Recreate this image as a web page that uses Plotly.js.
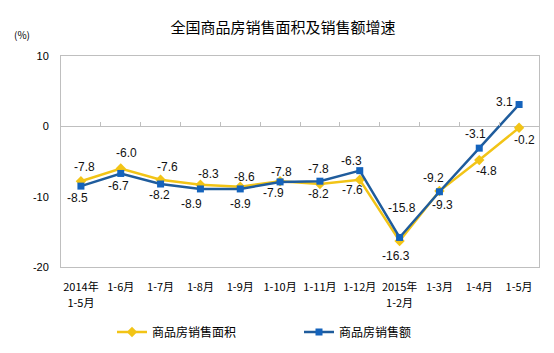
<!DOCTYPE html>
<html>
<head>
<meta charset="utf-8">
<script src="https://cdn.plot.ly/plotly-3.0.1.min.js"></script>
<style>html,body{margin:0;padding:0;background:#fff;}#chart{width:554px;height:353px;}</style>
</head>
<body>
<div id="chart"></div>
<script>
// ---- data ----
const categories = ["2014年 1-5月","1-6月","1-7月","1-8月","1-9月","1-10月","1-11月","1-12月","2015年 1-2月","1-3月","1-4月","1-5月"];
const tickLine1 = ["2014年","1-6月","1-7月","1-8月","1-9月","1-10月","1-11月","1-12月","2015年","1-3月","1-4月","1-5月"];
const tickLine2 = ["1-5月","","","","","","","","1-2月","","",""];
const areaName = "商品房销售面积";
const amountName = "商品房销售额";
const areaValues = [-7.8, -6.0, -7.6, -8.3, -8.6, -7.8, -8.2, -7.6, -16.3, -9.2, -4.8, -0.2];
const amountValues = [-8.5, -6.7, -8.2, -8.9, -8.9, -7.9, -7.8, -6.3, -15.8, -9.3, -3.1, 3.1];
const yTicks = [10, 0, -10, -20];
const yMin = -20, yMax = 10;

// ---- label placement (pixel offsets from each point: [dx, dy], dy up-positive) ----
const areaLabelOffset = [[4,14],[6,16],[7,13],[8,11],[4,10],[1,9],[-1,-10],[-7,-10],[-4,-15],[-6,13],[7,-11],[5,-12]];
const amountLabelOffset = [[-3,-12],[-2,-13],[-1,-11],[-9,-15],[0,-15],[-7,-11],[-1,12],[-8,10],[2,29],[3,-13],[-4,14],[-15,3]];

const FONT = "Liberation Sans, Arial, Noto Sans CJK SC, sans-serif";
const CJK = "Noto Sans CJK SC, Liberation Sans, sans-serif";
const YELLOW = "#F2C416";
const BLUE_LINE = "#1F5C9C";
const BLUE_MARK = "#1463BC";
const AXIS_GRAY = "#BFBFBF";

// fraction of the plot height where the zero line sits
const zeroFrac = (0 - yMin) / (yMax - yMin);

const traces = [
  {
    x: categories, y: areaValues, xaxis: "x2", yaxis: "y2", type: "scatter", mode: "lines",
    line: {width: 0}, opacity: 0, showlegend: false, hoverinfo: "skip"
  },
  {
    x: categories, y: areaValues, xaxis: "x3", type: "scatter", mode: "lines",
    line: {width: 0}, opacity: 0, showlegend: false, hoverinfo: "skip"
  },
  {
    x: categories, y: areaValues, name: areaName, type: "scatter", mode: "lines+markers",
    line: {color: YELLOW, width: 2.5},
    marker: {symbol: "diamond", size: 8, color: YELLOW},
    cliponaxis: false, hoverinfo: "skip"
  },
  {
    x: categories, y: amountValues, name: amountName, type: "scatter", mode: "lines+markers",
    line: {color: BLUE_LINE, width: 2.5},
    marker: {symbol: "square", size: 7, color: BLUE_MARK},
    cliponaxis: false, hoverinfo: "skip"
  }
];

function labelAnnotations(values, offsets) {
  return values.map((v, i) => ({
    x: categories[i], y: v, xref: "x", yref: "y",
    text: v.toFixed(1), showarrow: false,
    xanchor: "center", yanchor: "middle",
    xshift: offsets[i][0], yshift: offsets[i][1],
    font: {family: FONT, size: 12, color: "#111"}
  }));
}

const annotations = [
  ...labelAnnotations(areaValues, areaLabelOffset),
  ...labelAnnotations(amountValues, amountLabelOffset),
  {
    text: "(%)", xref: "paper", yref: "paper",
    x: (22 - 61)/478, y: (267 - 34)/211, xanchor: "center", yanchor: "middle",
    showarrow: false, font: {family: CJK, size: 10, color: "#000"}
  }
];

const layout = {
  width: 554, height: 353,
  margin: {l: 61, r: 15, t: 56, b: 86},
  paper_bgcolor: "#fff", plot_bgcolor: "rgba(0,0,0,0)",
  font: {family: CJK, size: 11, color: "#000"},
  title: {
    text: "全国商品房销售面积及销售额增速",
    font: {family: CJK, size: 15, color: "#000"},
    x: 283/554, xref: "container", xanchor: "center",
    y: 1 - 28/353, yref: "container", yanchor: "middle"
  },
  showlegend: true,
  legend: {
    orientation: "h", xref: "container", yref: "container",
    x: 112/554, xanchor: "left", y: 1 - 332/353, yanchor: "middle",
    entrywidth: 142, entrywidthmode: "pixels",
    font: {family: CJK, size: 12, color: "#000"},
    itemwidth: 30, tracegroupgap: 0
  },
  xaxis: {
    type: "category", range: [-0.5, 11.5],
    tickmode: "array", tickvals: categories, ticktext: tickLine1,
    showline: true, mirror: true, linecolor: AXIS_GRAY, linewidth: 1,
    ticks: "", showgrid: false, zeroline: false,
    tickfont: {family: CJK, size: 11, color: "#000"},
    ticklabelstandoff: 10, fixedrange: true
  },
  xaxis2: {
    type: "category", anchor: "y2", side: "bottom", domain: [0, 1],
    range: [-0.5, 11.5], tickmode: "linear", tick0: 0, dtick: 1,
    showline: false, ticks: "inside", ticklen: 4, tickwidth: 1, tickcolor: AXIS_GRAY, tickson: "boundaries",
    showticklabels: false, showgrid: false, zeroline: false, fixedrange: true
  },
  yaxis2: {
    domain: [zeroFrac, 1], anchor: "x2", visible: false, fixedrange: true
  },
  xaxis3: {
    type: "category", overlaying: "x", anchor: "y", side: "bottom",
    range: [-0.5, 11.5],
    tickmode: "array", tickvals: categories, ticktext: tickLine2,
    showline: false, ticks: "", showgrid: false, zeroline: false,
    tickfont: {family: CJK, size: 11, color: "#000"},
    ticklabelstandoff: 28, fixedrange: true
  },
  yaxis: {
    range: [yMin, yMax], tickvals: yTicks, ticktext: yTicks.map(String),
    showline: true, mirror: true, linecolor: AXIS_GRAY, linewidth: 1,
    showgrid: false, zeroline: true, zerolinecolor: AXIS_GRAY, zerolinewidth: 1,
    ticks: "", tickfont: {family: FONT, size: 11, color: "#000"},
    ticklabelstandoff: 9, fixedrange: true
  },
  annotations: annotations
};

Plotly.newPlot("chart", traces, layout, {displayModeBar: false, staticPlot: true});
</script>
</body>
</html>
